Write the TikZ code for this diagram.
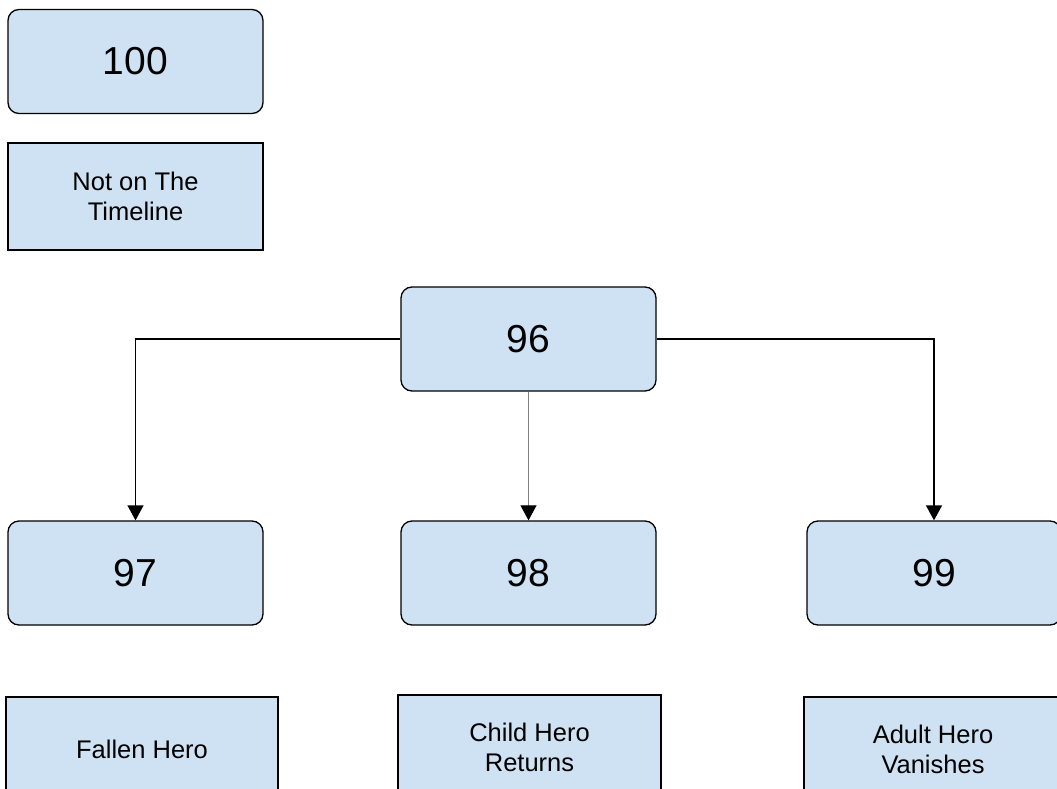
\documentclass[tikz,border=0pt]{standalone}
\usepackage{fontspec}
\setmainfont{Liberation Sans}
\usetikzlibrary{arrows.meta}
\usetikzlibrary{positioning}
\definecolor{boxblue}{HTML}{CFE2F3}

\begin{document}
\begin{tikzpicture}[x=1pt,y=-1pt,->,>={Triangle[width=16pt,length=15pt,black]},
    line width=1.3pt,
    num node/.style={rectangle,rounded corners=11pt,draw,fill=boxblue,font=\fontsize{39}{44}\selectfont,minimum width=255pt,minimum height=104pt,inner sep=0pt},
    note node/.style={rectangle,draw,fill=boxblue,font=\fontsize{25.5}{30}\selectfont,align=center,minimum height=104pt,inner sep=0pt}]
  \useasboundingbox (0,0) rectangle (1057,789);
  \begin{scope}
    \node[num node] (n100) at (135.5,61.5) {100};
    \node[note node,minimum width=255pt,minimum height=107pt] (off) at (135.5,196.5) {Not on The\\Timeline};

    \node[num node] (n96) at (528.5,339) {96};

    \node[num node] (n97) at (135.5,573) {97};
    \node[num node] (n98) at (528.5,573) {98};
    \node[num node,minimum width=254pt] (n99) at (934,573) {99};

    \node[note node,minimum width=272pt] (fallen) at (142,749) {Fallen Hero};
    \node[note node,minimum width=263pt] (child) at (529.5,747) {Child Hero\\Returns};
    \node[note node,minimum width=258pt] (adult) at (933,749) {Adult Hero\\Vanishes};

    \draw (n96.west) -| (n97.north);
    \draw[draw=gray,line width=1pt] (n96.south) -- (n98.north);
    \draw (n96.east) -| (n99.north);
  \end{scope}
\end{tikzpicture}
\end{document}
